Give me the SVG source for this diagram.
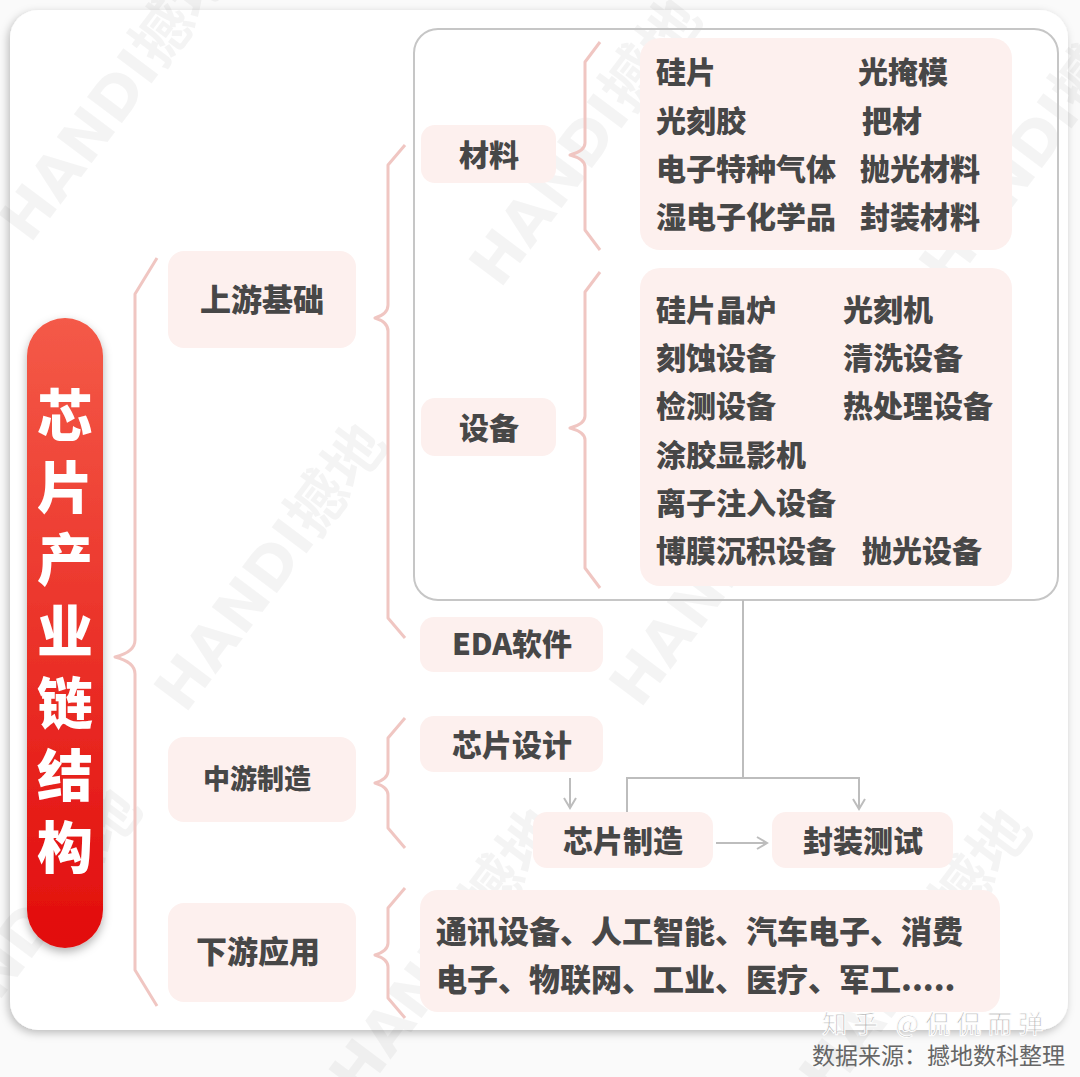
<svg xmlns="http://www.w3.org/2000/svg" width="1080" height="1077" viewBox="0 0 1080 1077">
<defs>
<style>
.box{fill:#fdf0ee}
.t{font-family:"Noto Sans CJK SC","Noto Sans",sans-serif;font-weight:900;fill:#474747;font-size:30px}
.c{text-anchor:middle}
.brace{fill:none;stroke:#f0c6c2;stroke-width:3;stroke-linejoin:round}
.conn{fill:none;stroke:#bdbdbd;stroke-width:2}
.wm{font-family:"DejaVu Sans","Noto Sans CJK SC",sans-serif;font-weight:700;font-size:60px;fill:#000;opacity:0.04}
.pt{font-family:"Noto Sans CJK SC",sans-serif;font-weight:900;font-size:56px;fill:#fff;writing-mode:vertical-rl;letter-spacing:16px}
</style>
<linearGradient id="red" x1="0" y1="0" x2="0" y2="1">
<stop offset="0" stop-color="#f45a48"/>
<stop offset="1" stop-color="#e20c0c"/>
</linearGradient>
<filter id="sh" x="-5%" y="-5%" width="110%" height="110%">
<feDropShadow dx="-2" dy="3" stdDeviation="4" flood-color="#000" flood-opacity="0.25"/>
</filter>
<filter id="psh" x="-30%" y="-10%" width="160%" height="120%">
<feDropShadow dx="0" dy="4" stdDeviation="5" flood-color="#000" flood-opacity="0.3"/>
</filter>
<marker id="ah" markerWidth="14" markerHeight="14" refX="12" refY="7" orient="auto" markerUnits="userSpaceOnUse">
<path d="M2,1 L12,7 L2,13" fill="none" stroke="#bdbdbd" stroke-width="2"/>
</marker>
</defs>
<rect width="1080" height="1077" fill="#fafafa"/>
<rect x="10" y="10" width="1058" height="1020" rx="28" fill="#fff" filter="url(#sh)"/>

<g id="watermarks">
<text class="wm" transform="translate(30,245) rotate(-53)">HANDI撼地</text>
<text class="wm" transform="translate(500,290) rotate(-53)">HANDI撼地</text>
<text class="wm" transform="translate(950,290) rotate(-53)">HANDI撼地</text>
<text class="wm" transform="translate(185,715) rotate(-53)">HANDI撼地</text>
<text class="wm" transform="translate(640,710) rotate(-53)">HANDI撼地</text>
<text class="wm" transform="translate(-60,1080) rotate(-53)">HANDI撼地</text>
<text class="wm" transform="translate(360,1100) rotate(-53)">HANDI撼地</text>
<text class="wm" transform="translate(830,1100) rotate(-53)">HANDI撼地</text>
</g>

<g id="container">
<rect x="414" y="29" width="644" height="571" rx="24" fill="none" stroke="#c6c6c6" stroke-width="2"/>
</g>

<g id="braces">
<path class="brace" d="M157,258 L135,294 L135,640 Q135,652 115,657 Q135,662 135,674 L135,970 L157,1006"/>
<path class="brace" d="M405,145 L388,165 L388,305 Q388,314 375,318 Q388,322 388,331 L388,618 L405,638"/>
<path class="brace" d="M600,42 L585,62 L585,143 Q585,151 570,155 Q585,159 585,167 L585,230 L600,250"/>
<path class="brace" d="M600,272 L585,292 L585,416 Q585,424 570,428 Q585,432 585,440 L585,568 L600,588"/>
<path class="brace" d="M405,718 L388,738 L388,771 Q388,779 375,783 Q388,787 388,795 L388,828 L405,848"/>
<path class="brace" d="M405,888 L388,908 L388,943 Q388,951 375,955 Q388,959 388,967 L388,998 L405,1018"/>
</g>

<g id="connectors">
<path class="conn" d="M743,600 L743,778"/>
<path class="conn" d="M627,812 L627,778 L859,778 L859,809" marker-end="url(#ah)"/>
<path class="conn" d="M570,778 L570,808" marker-end="url(#ah)"/>
<path class="conn" d="M716,843 L767,843" marker-end="url(#ah)"/>
</g>

<g id="title">
<rect x="27" y="318" width="76" height="630" rx="38" fill="url(#red)" filter="url(#psh)"/>
<text class="pt" x="65" y="387">芯片产业链结构</text>
</g>

<g id="upstream">
<rect class="box" x="168" y="251" width="188" height="97" rx="16"/>
<text class="t c" x="262" y="311" style="font-size:31px">上游基础</text>
</g>
<g id="midstream">
<rect class="box" x="168" y="737" width="188" height="85" rx="16"/>
<text class="t c" x="257" y="789" style="font-size:27px">中游制造</text>
</g>
<g id="downstream">
<rect class="box" x="168" y="903" width="188" height="99" rx="16"/>
<text class="t c" x="258" y="963" style="font-size:31px">下游应用</text>
</g>

<g id="materials">
<rect class="box" x="421" y="125" width="135" height="58" rx="14"/>
<text class="t c" x="489" y="166">材料</text>
</g>
<g id="equipment">
<rect class="box" x="421" y="398" width="135" height="58" rx="14"/>
<text class="t c" x="489" y="439">设备</text>
</g>

<g id="materials-list">
<rect class="box" x="640" y="38" width="372" height="212" rx="20"/>
<text class="t" x="656" y="83">硅片</text>
<text class="t" x="858" y="83">光掩模</text>
<text class="t" x="656" y="132">光刻胶</text>
<text class="t" x="862" y="132">把材</text>
<text class="t" x="656" y="180">电子特种气体</text>
<text class="t" x="860" y="180">抛光材料</text>
<text class="t" x="656" y="228">湿电子化学品</text>
<text class="t" x="860" y="228">封装材料</text>
</g>

<g id="equipment-list">
<rect class="box" x="640" y="268" width="372" height="318" rx="20"/>
<text class="t" x="656" y="321">硅片晶炉</text>
<text class="t" x="843" y="321">光刻机</text>
<text class="t" x="656" y="369">刻蚀设备</text>
<text class="t" x="843" y="369">清洗设备</text>
<text class="t" x="656" y="417">检测设备</text>
<text class="t" x="843" y="417">热处理设备</text>
<text class="t" x="656" y="466">涂胶显影机</text>
<text class="t" x="656" y="514">离子注入设备</text>
<text class="t" x="656" y="562">博膜沉积设备</text>
<text class="t" x="862" y="562">抛光设备</text>
</g>

<g id="eda">
<rect class="box" x="420" y="617" width="183" height="55" rx="14"/>
<text class="t c" x="512" y="655">EDA软件</text>
</g>
<g id="chip-design">
<rect class="box" x="420" y="716" width="183" height="56" rx="14"/>
<text class="t c" x="512" y="756">芯片设计</text>
</g>
<g id="chip-manufacture">
<rect class="box" x="533" y="812" width="180" height="56" rx="14"/>
<text class="t c" x="623" y="852">芯片制造</text>
</g>
<g id="packaging">
<rect class="box" x="772" y="812" width="181" height="56" rx="14"/>
<text class="t c" x="863" y="852">封装测试</text>
</g>

<g id="applications">
<rect class="box" x="420" y="890" width="580" height="122" rx="18"/>
<text class="t" x="436" y="943" style="font-size:31px">通讯设备、人工智能、汽车电子、消费</text>
<text class="t" x="436" y="991" style="font-size:31px">电子、物联网、工业、医疗、军工.....</text>
</g>

<g id="credits">
<text x="822" y="1033" style="font-family:'Noto Sans CJK SC',sans-serif;font-size:25px;letter-spacing:6px;fill:#b5b5b5;stroke:#fff;stroke-width:1">知乎 @侃侃而弹</text>
<text x="812" y="1064" style="font-family:'Noto Sans CJK SC',sans-serif;font-size:23px;fill:#666">数据来源：撼地数科整理</text>
</g>
</svg>
